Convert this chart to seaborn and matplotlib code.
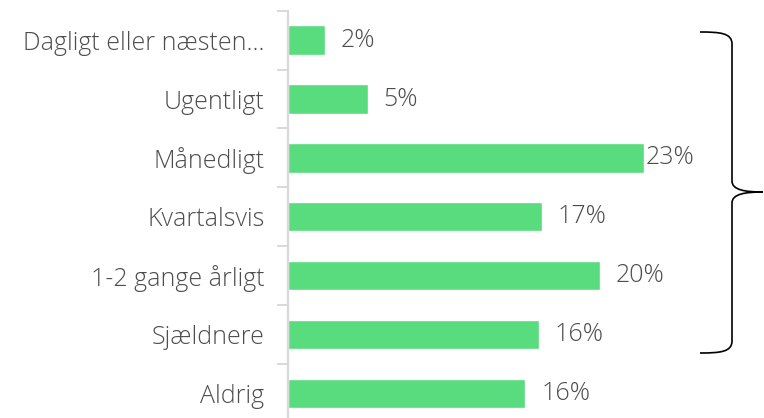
import matplotlib
matplotlib.use("Agg")
import matplotlib.pyplot as plt
import seaborn as sns
import pandas as pd
from matplotlib.path import Path
from matplotlib.patches import PathPatch

categories = [
    "Dagligt eller næsten…",
    "Ugentligt",
    "Månedligt",
    "Kvartalsvis",
    "1-2 gange årligt",
    "Sjældnere",
    "Aldrig",
]
values = [2.4, 5.2, 23.3, 16.6, 20.4, 16.4, 15.5]
labels = ["2%", "5%", "23%", "17%", "20%", "16%", "16%"]

df = pd.DataFrame({"kategori": categories, "andel": values})

sns.set_style("white")
plt.rcParams["font.family"] = ["Open Sans", "DejaVu Sans"]
plt.rcParams["font.weight"] = "light"

fig = plt.figure(figsize=(7.64, 4.18), dpi=100)
ax = fig.add_axes([288 / 764, -4.75 / 418, (700 - 288) / 764, 412 / 418])

sns.barplot(data=df, x="andel", y="kategori", orient="h", color="#58dc7e",
            saturation=1, width=0.5, ax=ax)

ax.set_xlim(0, (700 - 288) / 15.3)
ax.set_ylim(len(categories) - 0.5, -0.5)
ax.set_xlabel("")
ax.set_ylabel("")
ax.set_xticks([])

for s in ["top", "right", "bottom"]:
    ax.spines[s].set_visible(False)
ax.spines["left"].set_color("#d9d9d9")
ax.spines["left"].set_linewidth(1.6)

ax.set_yticks([i + 0.5 for i in range(-1, len(categories))], minor=True)
ax.tick_params(axis="y", which="minor", length=8, width=1.4, color="#d9d9d9", left=True)
ax.tick_params(axis="y", which="major", length=0, pad=17, labelsize=18, labelcolor="#4d4d4d")
for t in ax.get_yticklabels():
    t.set_fontweight("light")

top = max(values)
for i, (v, lab) in enumerate(zip(values, labels)):
    off = 0.5 if v == top else 11.5
    ax.annotate(lab, (v, i), xytext=(off, 0), textcoords="offset points",
                va="center", ha="left", fontsize=18, color="#4d4d4d",
                fontweight="light", annotation_clip=False)

# curly brace on the right
W, H = 764, 418
pts = [(700, 32), (720, 32), (732, 33), (732, 44), (732, 181),
       (732, 190), (745, 192), (763, 192),
       (745, 192), (732, 194), (732, 203), (732, 341),
       (732, 352), (720, 353), (700, 353)]
codes = [Path.MOVETO, Path.CURVE4, Path.CURVE4, Path.CURVE4, Path.LINETO,
         Path.CURVE4, Path.CURVE4, Path.CURVE4,
         Path.CURVE4, Path.CURVE4, Path.CURVE4, Path.LINETO,
         Path.CURVE4, Path.CURVE4, Path.CURVE4]
verts = [(x / W, 1 - y / H) for x, y in pts]
fig.patches.append(PathPatch(Path(verts, codes), transform=fig.transFigure,
                             fill=False, lw=1.2, color="black"))

fig.savefig("out.png", dpi=100)
